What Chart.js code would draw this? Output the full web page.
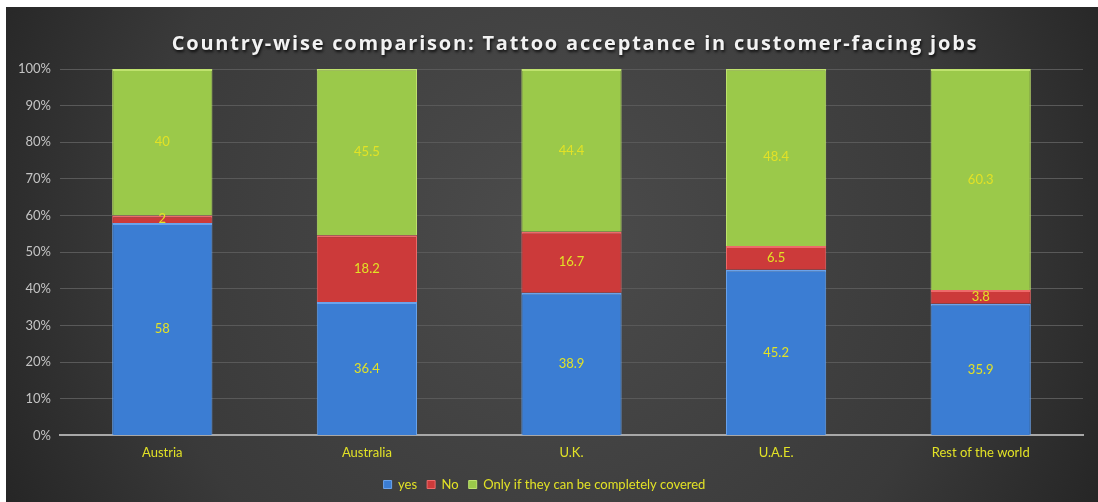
<!DOCTYPE html>
<html lang="en">
<head>
    <meta charset="UTF-8">
    <title>Tattoo acceptance</title>
    <style>
        body {
            margin: 0;
            background-color: #fff;
        }

        #chart-box {
            position: absolute;
            left: 6px;
            top: 7px;
            width: 1092px;
            height: 495px;
        }
    </style>
</head>
<body>
    <div id="chart-box">
        <canvas id="tattoo-chart"></canvas>
    </div>

    <script src="https://cdn.jsdelivr.net/npm/chart.js"></script>

    <script>
        const chartTitle = 'Country-wise comparison: Tattoo acceptance in customer-facing jobs';
        const countries = ['Austria', 'Australia', 'U.K.', 'U.A.E.', 'Rest of the world'];
        const yesValues = [58, 36.4, 38.9, 45.2, 35.9];
        const noValues = [2, 18.2, 16.7, 6.5, 3.8];
        const coveredValues = [40, 45.5, 44.4, 48.4, 60.3];
        const percentTicks = [0, 10, 20, 30, 40, 50, 60, 70, 80, 90, 100];

        const yellow = '#e2e226';

        // dark radial background like the office chart
        const backgroundPlugin = {
            id: 'darkBackground',
            beforeDraw(chart) {
                const ctx = chart.ctx;
                const w = chart.width, h = chart.height;
                const grad = ctx.createRadialGradient(w * 0.5, h * 0.45, 20, w * 0.5, h * 0.45, w * 0.62);
                grad.addColorStop(0, '#4b4b4b');
                grad.addColorStop(0.6, '#3a3a3a');
                grad.addColorStop(1, '#1f1f1f');
                ctx.save();
                ctx.fillStyle = grad;
                ctx.fillRect(0, 0, w, h);
                ctx.restore();
            }
        };

        // spaced-out title with a soft shadow (chart.js title has no letter spacing)
        const spacedTitle = {
            id: 'spacedTitle',
            afterDraw(chart) {
                const ctx = chart.ctx;
                ctx.save();
                ctx.font = 'bold 20px "Open Sans"';
                ctx.letterSpacing = '1.8px';
                ctx.fillStyle = '#f2f2f2';
                ctx.textAlign = 'center';
                ctx.textBaseline = 'middle';
                ctx.shadowColor = 'rgba(0,0,0,0.8)';
                ctx.shadowOffsetX = 1;
                ctx.shadowOffsetY = 2;
                ctx.shadowBlur = 3;
                ctx.fillText(chartTitle, chart.width / 2 + 23, 37);
                ctx.restore();
            }
        };

        // value labels in the middle of each segment
        const valueLabels = {
            id: 'valueLabels',
            afterDatasetsDraw(chart) {
                const ctx = chart.ctx;
                ctx.save();
                ctx.font = '13px Lato';
                ctx.fillStyle = yellow;
                ctx.textAlign = 'center';
                ctx.textBaseline = 'middle';
                chart.data.datasets.forEach((ds, i) => {
                    chart.getDatasetMeta(i).data.forEach((bar, j) => {
                        const y = (bar.y + bar.base) / 2;
                        ctx.fillText(String(ds.data[j]), bar.x, y);
                    });
                });
                ctx.restore();
            }
        };

        function makeSet(label, data, fill, edge) {
            return {
                label: label,
                data: data,
                backgroundColor: fill,
                borderColor: edge,
                borderWidth: { top: 2, left: 1, right: 1, bottom: 0 },
                borderSkipped: false,
                barPercentage: 0.49,
                categoryPercentage: 1
            };
        }

        const ctx = document.getElementById('tattoo-chart').getContext('2d');
        new Chart(ctx, {
            type: 'bar',
            data: {
                labels: countries,
                datasets: [
                    makeSet('yes', yesValues, '#3b7dd3', '#6aa3ec'),
                    makeSet('No', noValues, '#cc3a3a', '#ee6a6a'),
                    makeSet('Only if they can be completely covered', coveredValues, '#9bc94a', '#bfe26e')
                ]
            },
            options: {
                responsive: true,
                maintainAspectRatio: false,
                animation: false,
                layout: {
                    padding: { left: 0, right: 15, top: 62, bottom: 1 }
                },
                plugins: {
                    title: { display: false },
                    legend: {
                        position: 'bottom',
                        labels: {
                            color: yellow,
                            font: { family: 'Lato', size: 13 },
                            boxWidth: 8,
                            boxHeight: 8,
                            padding: 10
                        }
                    },
                    tooltip: { enabled: false }
                },
                scales: {
                    x: {
                        stacked: true,
                        afterFit(scale) { scale.height += 5; },
                        grid: { display: false },
                        border: { color: '#a8a8a8', width: 2 },
                        ticks: {
                            color: yellow,
                            font: { family: 'Lato', size: 13 },
                            padding: 2
                        }
                    },
                    y: {
                        stacked: true,
                        min: 0,
                        max: 100,
                        afterFit(scale) { scale.width = 54; },
                        afterBuildTicks(scale) {
                            scale.ticks = percentTicks.map(v => ({ value: v }));
                        },
                        border: { display: false },
                        grid: { color: '#595959', lineWidth: 1, drawTicks: false },
                        ticks: {
                            color: '#c4c4c4',
                            font: { family: 'Lato', size: 13 },
                            padding: 9,
                            callback: v => v + '%'
                        }
                    }
                }
            },
            plugins: [backgroundPlugin, valueLabels, spacedTitle]
        });
    </script>
</body>
</html>
